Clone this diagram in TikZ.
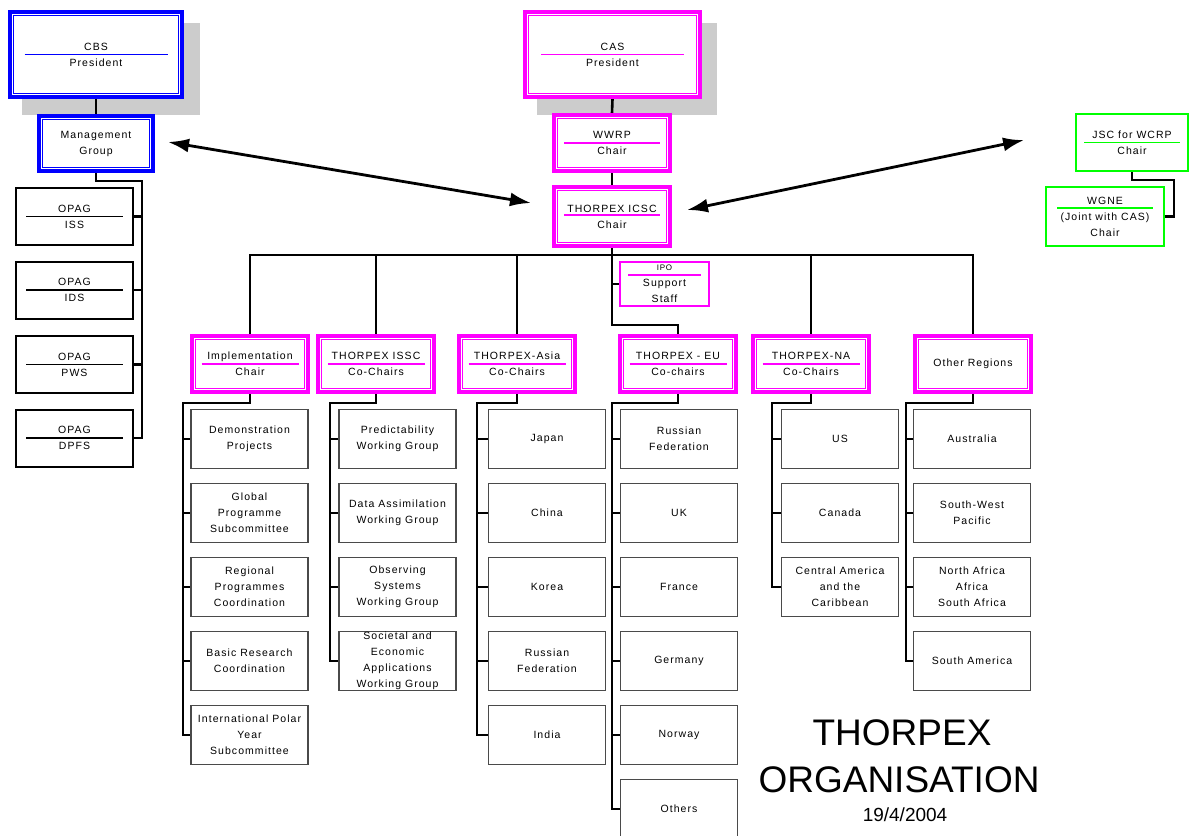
\documentclass[tikz,border=0pt]{standalone}
\usepackage{fontspec}
\setmainfont{Liberation Sans}
\newfontfamily\boxfont{Liberation Sans}[LetterSpace=10]
\usetikzlibrary{arrows.meta,backgrounds}
\definecolor{cbsblue}{HTML}{0000FF}
\definecolor{casmagenta}{HTML}{FF00FF}
\definecolor{wcrpgreen}{HTML}{00FF00}
\definecolor{shadowgray}{HTML}{CCCCCC}
\definecolor{boxgray}{HTML}{4A4A4A}
\tikzset{
  rulew/.initial=0pt, ruley/.initial=0pt,
  ruled/.style={draw=#1, fill=white, align=center, inner sep=0pt,
    path picture={
      \draw[#1,line width=1.4pt] ([xshift=-0.5*\pgfkeysvalueof{/tikz/rulew},yshift=\pgfkeysvalueof{/tikz/ruley}]path picture bounding box.center) -- ++(\pgfkeysvalueof{/tikz/rulew},0pt);}},
  headbox/.style={draw=#1, line width=4pt, fill=white, align=center, inner sep=0pt,
    path picture={
      \draw[#1,line width=0.9pt] ([shift={(3.1pt,-3.1pt)}]path picture bounding box.north west) rectangle ([shift={(-3.1pt,3.1pt)}]path picture bounding box.south east);
      \draw[#1,line width=1.4pt] ([xshift=-0.5*\pgfkeysvalueof{/tikz/rulew},yshift=\pgfkeysvalueof{/tikz/ruley}]path picture bounding box.center) -- ++(\pgfkeysvalueof{/tikz/rulew},0pt);}},
  chairbox/.style={headbox=casmagenta, minimum width=116, minimum height=56, rulew=97pt},
  opagbox/.style={ruled=black, line width=2pt, minimum width=117, minimum height=57, rulew=97pt},
  greenbox/.style={ruled=wcrpgreen, line width=2pt, rulew=96pt},
  unitbox/.style={draw=boxgray, line width=1.2pt, fill=white, align=center, inner sep=0pt, minimum width=117, minimum height=59},
  conn/.style={draw=black, line width=2.6pt},
  bigarrow/.style={line width=2.8pt, {Latex[length=21pt,width=14pt]}-{Latex[length=21pt,width=14pt]}},
  every node/.style={font=\boxfont\fontsize{10.5}{16}\selectfont},
}

\begin{document}
\begin{tikzpicture}[x=1pt,y=-1pt]
\useasboundingbox (0,0) rectangle (1190,835);
\begin{scope}[on background layer]
\fill[shadowgray] (22,23) rectangle (200,115);
\fill[shadowgray] (537,23) rectangle (717,115);
\end{scope}
% CBS side
\node (cbs) [headbox=cbsblue, minimum width=172, minimum height=85, rulew=143pt] at (96,54.5) {CBS\\President};
\node (mgmt) [headbox=cbsblue, minimum width=114, minimum height=55] at (96,143.5) {Management\\Group};
\node (opagiss) [opagbox] at (74.5,216.5) {OPAG\\ISS};
\node (opagids) [opagbox] at (74.5,290) {OPAG\\IDS};
\node (opagpws) [opagbox] at (74.5,364.5) {OPAG\\PWS};
\node (opagdpfs) [opagbox] at (74.5,438) {OPAG\\DPFS};
% CAS side
\node (cas) [headbox=casmagenta, minimum width=175, minimum height=85, rulew=143pt] at (612.5,54.5) {CAS\\President};
\node (wwrp) [headbox=casmagenta, minimum width=116, minimum height=56, rulew=96pt] at (612,143) {WWRP\\Chair};
\node (icsc) [headbox=casmagenta, minimum width=116, minimum height=59, rulew=96pt, ruley=1.5pt] at (612,216.5) {THORPEX ICSC\\Chair};
\node (ipo) [ruled=casmagenta, line width=2pt, minimum width=89, minimum height=44, rulew=73pt, ruley=9pt] at (664.5,284) {{\fontsize{8}{10}\selectfont IPO}\\Support\\Staff};
% WCRP side
\node (jsc) [greenbox, minimum width=112, minimum height=57] at (1132,142.5) {JSC for WCRP\\Chair};
\node (wgne) [greenbox, minimum width=118, minimum height=59, ruley=8.5pt] at (1105,216.5) {WGNE\\(Joint with CAS)\\Chair};
% chairs
\node (impl) [chairbox] at (250,364) {Implementation\\Chair};
\node (issc) [chairbox] at (376,364) {THORPEX ISSC\\Co-Chairs};
\node (asia) [chairbox] at (517,364) {THORPEX-Asia\\Co-Chairs};
\node (eu) [chairbox] at (678,364) {THORPEX - EU\\Co-chairs};
\node (na) [chairbox] at (811,364) {THORPEX-NA\\Co-Chairs};
\node (other) [chairbox, rulew=0pt] at (973,364) {Other Regions};
% implementation
\node (demo) [unitbox] at (249.5,439) {Demonstration\\Projects};
\node (global) [unitbox] at (249.5,513) {Global\\Programme\\Subcommittee};
\node (regional) [unitbox] at (249.5,587) {Regional\\Programmes\\Coordination};
\node (basic) [unitbox] at (249.5,661) {Basic Research\\Coordination};
\node (ipy) [unitbox] at (249.5,735) {International Polar\\Year\\Subcommittee};
% ISSC
\node (predict) [unitbox] at (397.5,439) {Predictability\\Working Group};
\node (dataas) [unitbox] at (397.5,513) {Data Assimilation\\Working Group};
\node (observ) [unitbox] at (397.5,587) {Observing\\Systems\\Working Group};
\node (societal) [unitbox] at (397.5,661) {Societal and\\Economic\\Applications\\Working Group};
% Asia
\node (japan) [unitbox] at (547,439) {Japan};
\node (china) [unitbox] at (547,513) {China};
\node (korea) [unitbox] at (547,587) {Korea};
\node (russia) [unitbox] at (547,661) {Russian\\Federation};
\node (india) [unitbox] at (547,735) {India};
% EU
\node (rusfed) [unitbox] at (679,439) {Russian\\Federation};
\node (uk) [unitbox] at (679,513) {UK};
\node (france) [unitbox] at (679,587) {France};
\node (germany) [unitbox] at (679,661) {Germany};
\node (norway) [unitbox] at (679,735) {Norway};
\node (others) [unitbox] at (679,809) {Others};
% NA
\node (us) [unitbox] at (840,439) {US};
\node (canada) [unitbox] at (840,513) {Canada};
\node (centam) [unitbox] at (840,587) {Central America\\and the\\Caribbean};
% other regions
\node (australia) [unitbox] at (972,439) {Australia};
\node (swpac) [unitbox] at (972,513) {South-West\\Pacific};
\node (africa) [unitbox] at (972,587) {North Africa\\Africa\\South Africa};
\node (samerica) [unitbox] at (972,661) {South America};
% title
\node (title) [font=\fontsize{37}{40}\selectfont] at (902,733) {THORPEX};
\node (title2) [font=\fontsize{37}{40}\selectfont] at (899,780) {ORGANISATION};
\node (date) [font=\fontsize{19}{22}\selectfont] at (905,815) {19/4/2004};
%
\coordinate (opagjog) at (142,181);
\coordinate (bus) at (612,255);
\coordinate (eujog) at (612,325);
\coordinate (wgnejog) at (1174,180);
\coordinate (implspine) at (183,403);
\coordinate (isscspine) at (330,403);
\coordinate (asiaspine) at (477,403);
\coordinate (euspine) at (612,403);
\coordinate (naspine) at (772,403);
\coordinate (otherspine) at (906,403);
\begin{scope}[on background layer]
\draw[conn] (cbs.south) -- (mgmt.north);
\draw[conn] (mgmt.south) |- (opagjog) |- (opagdpfs.east);
\draw[conn] (opagiss.east) -- (opagiss.east -| opagjog);
\draw[conn] (opagids.east) -- (opagids.east -| opagjog);
\draw[conn] (opagpws.east) -- (opagpws.east -| opagjog);
\draw[conn] (cas.south) -- (wwrp.north);
\draw[conn] (wwrp.south) -- (icsc.north);
\draw[conn] (jsc.south) |- (wgnejog) |- (wgne.east);
\draw[conn] (impl.north) -- (impl.north |- bus) -- (other.north |- bus) -- (other.north);
\draw[conn] (issc.north) -- (issc.north |- bus);
\draw[conn] (asia.north) -- (asia.north |- bus);
\draw[conn] (na.north) -- (na.north |- bus);
\draw[conn] (icsc.south) -- (eujog) -| (eu.north);
\draw[conn] (ipo.west) -- (ipo.west -| icsc.south);
%
\draw[conn] (impl.south) |- (implspine) |- (ipy.west);
\draw[conn] (demo.west) -- (demo.west -| implspine);
\draw[conn] (global.west) -- (global.west -| implspine);
\draw[conn] (regional.west) -- (regional.west -| implspine);
\draw[conn] (basic.west) -- (basic.west -| implspine);
\draw[conn] (issc.south) |- (isscspine) |- (societal.west);
\draw[conn] (predict.west) -- (predict.west -| isscspine);
\draw[conn] (dataas.west) -- (dataas.west -| isscspine);
\draw[conn] (observ.west) -- (observ.west -| isscspine);
\draw[conn] (asia.south) |- (asiaspine) |- (india.west);
\draw[conn] (japan.west) -- (japan.west -| asiaspine);
\draw[conn] (china.west) -- (china.west -| asiaspine);
\draw[conn] (korea.west) -- (korea.west -| asiaspine);
\draw[conn] (russia.west) -- (russia.west -| asiaspine);
\draw[conn] (eu.south) |- (euspine) |- (others.west);
\draw[conn] (rusfed.west) -- (rusfed.west -| euspine);
\draw[conn] (uk.west) -- (uk.west -| euspine);
\draw[conn] (france.west) -- (france.west -| euspine);
\draw[conn] (germany.west) -- (germany.west -| euspine);
\draw[conn] (norway.west) -- (norway.west -| euspine);
\draw[conn] (na.south) |- (naspine) |- (centam.west);
\draw[conn] (us.west) -- (us.west -| naspine);
\draw[conn] (canada.west) -- (canada.west -| naspine);
\draw[conn] (other.south) |- (otherspine) |- (samerica.west);
\draw[conn] (australia.west) -- (australia.west -| otherspine);
\draw[conn] (swpac.west) -- (swpac.west -| otherspine);
\draw[conn] (africa.west) -- (africa.west -| otherspine);
\end{scope}
% liaison arrows
\draw[bigarrow, shorten <=13.2pt, shorten >=21.3pt] ([yshift=3.7pt]mgmt.east) -- ([yshift=10pt]icsc.west);
\draw[bigarrow, shorten <=15.3pt, shorten >=52pt] ([yshift=3.4pt]icsc.east) -- ([yshift=13pt]jsc.west);
\end{tikzpicture}
\end{document}
